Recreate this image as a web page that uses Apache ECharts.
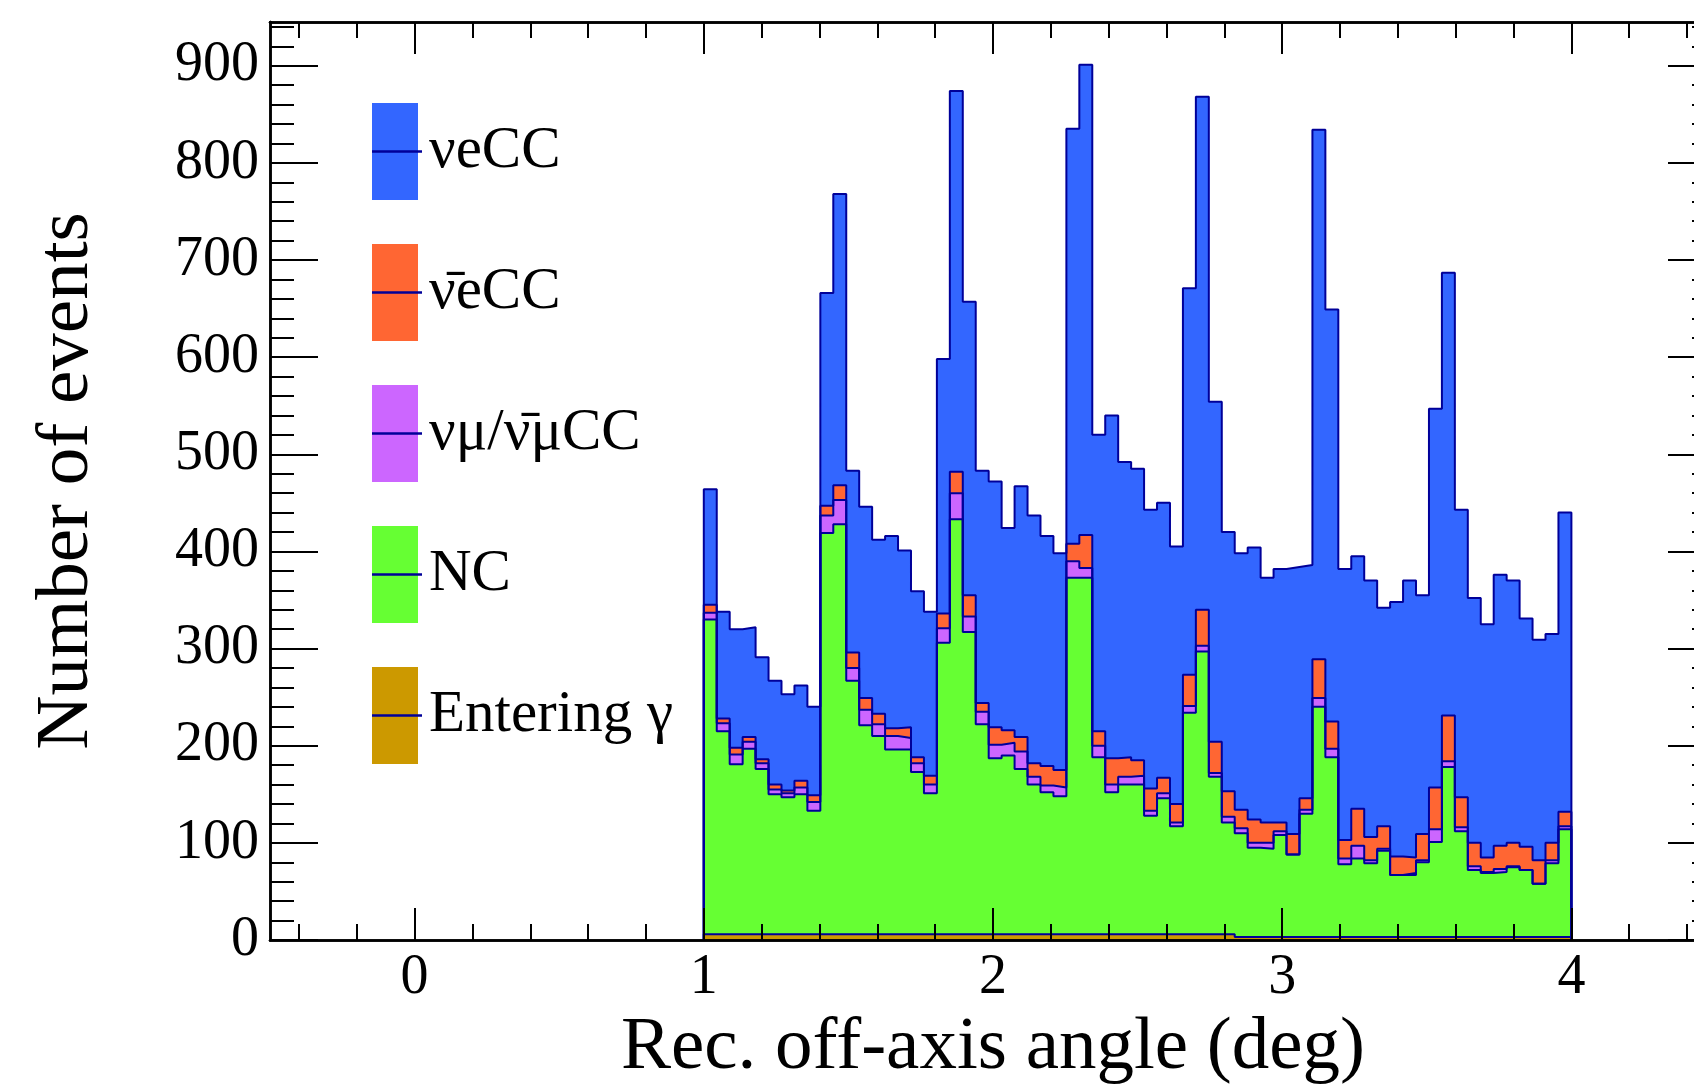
<!DOCTYPE html>
<html>
<head>
<meta charset="utf-8">
<title>off-axis angle</title>
<script src="https://cdn.jsdelivr.net/npm/echarts@6.0.0/dist/echarts.min.js"></script>
<style>
  html, body { margin: 0; padding: 0; background: #fff; }
  #main { width: 1694px; height: 1090px; }
</style>
</head>
<body>
<div id="main"></div>
<script type="text/javascript">
// histogram binning: 67 bins between 1 and 4 deg
var binLow = 1, binHigh = 4;

// events per bin, one array per component (stack order bottom -> top)
var enteringGamma = [6,6,6,6,6,6,6,6,6,6, 6,6,6,6,6,6,6,6,6,6, 6,6,6,6,6,6,6,6,6,6, 6,6,6,6,6,6,6,6,6,6,
                     6,3,3,3,3,3,3,3,3,3, 3,3,3,3,3,3,3,3,3,3, 3,3,3,3,3,3,3];
var nc = [324,209,175,191,170,144,141,144,127,413, 422,261,215,204,190,190,167,145,300,427,
          311,216,181,184,170,154,146,142,367,367, 182,146,154,154,122,140,111,228,291,162,
          115,107,92,91,105,85,127,237,185,75, 81,76,89,64,64,77,98,175,109,69,
          66,67,72,69,55,76,111];
var numuCC = [7,8,10,7,6,5,4,7,9,18, 25,13,16,12,14,12,9,9,15,27,
              16,13,14,13,18,8,7,9,17,10, 12,8,8,9,5,5,4,7,6,4,
              6,5,5,6,4,0,4,9,9,6, 13,3,2,0,2,2,13,6,4,4,
              1,3,1,0,0,3,3];
var nuebarCC = [8,5,7,5,4,5,3,7,7,10, 15,16,12,11,8,11,6,9,15,22,
                22,9,18,13,15,14,20,18,18,34, 15,27,20,16,23,16,19,32,37,32,
                26,19,24,21,9,21,12,40,28,19, 38,24,23,19,16,27,43,47,31,24,
                15,24,24,24,24,18,15];
var nueCC = [119,110,122,113,105,107,99,98,91,219, 300,187,197,179,198,182,171,169,262,392,
             302,239,253,208,258,255,237,223,427,484, 305,353,304,300,287,283,265,398,528,350,
             267,264,280,252,261,275,240,545,424,279, 260,264,225,262,285,246,390,456,296,252,
             240,279,270,235,227,215,308];

var xMajor = [0, 1, 2, 3, 4];
var xMinor = [-0.4, -0.2, 0.2, 0.4, 0.6, 0.8, 1.2, 1.4, 1.6, 1.8, 2.2, 2.4, 2.6, 2.8,
              3.2, 3.4, 3.6, 3.8, 4.2, 4.4];
var yMajor = [0, 100, 200, 300, 400, 500, 600, 700, 800, 900];
var yMinor = [20, 40, 60, 80, 120, 140, 160, 180, 220, 240, 260, 280, 320, 340, 360, 380,
              420, 440, 460, 480, 520, 540, 560, 580, 620, 640, 660, 680, 720, 740, 760, 780,
              820, 840, 860, 880, 920, 940];

var names = ['\u03BDeCC', '\u03BD\u0304eCC', '\u03BD\u03BC/\u03BD\u0304\u03BCCC', 'NC', 'Entering \u03B3'];
var fills = ['#3366ff', '#ff6633', '#cc66ff', '#66ff33', '#cc9900'];
var lineCol = '#000099';
var font = "'Liberation Serif', 'DejaVu Serif', serif";

// cumulative stacks, from top layer down
var layers = [enteringGamma, nc, numuCC, nuebarCC, nueCC];
var cum = [];
var run = enteringGamma.map(function () { return 0; });
layers.forEach(function (arr) {
    run = run.map(function (v, i) { return v + arr[i]; });
    cum.push(run.slice());
});
cum.reverse(); // [total, ..., gamma]

function stepPoints(vals) {
    var w = (binHigh - binLow) / vals.length;
    var pts = [[binLow, 0]];
    for (var i = 0; i < vals.length; i++) pts.push([binLow + i * w, vals[i]]);
    pts.push([binHigh, vals[vals.length - 1]]);
    pts.push([binHigh, 0]);
    return pts;
}

var series = cum.map(function (vals, k) {
    return {
        name: names[k],
        type: 'line',
        step: 'end',
        symbol: 'none',
        color: fills[k],
        lineStyle: { color: lineCol, width: 2 },
        areaStyle: { color: fills[k], opacity: 1 },
        data: stepPoints(vals),
        xAxisIndex: 0,
        yAxisIndex: 0,
        animation: false,
        silent: true
    };
});

function xAx(pos, ticks, len, labels) {
    return {
        type: 'value', position: pos, min: -0.5, max: 4.5, z: 5,
        axisLine: { show: true, onZero: false, lineStyle: { color: '#000', width: 2.5 } },
        axisTick: { show: true, inside: true, length: len, customValues: ticks,
                    lineStyle: { color: '#000', width: 2 } },
        axisLabel: labels ? { show: true, customValues: xMajor, margin: 10, color: '#000',
                              fontFamily: font, fontSize: 56 } : { show: false },
        splitLine: { show: false }
    };
}
function yAx(pos, ticks, len, labels) {
    return {
        type: 'value', position: pos, min: 0, max: 945, z: 5,
        axisLine: { show: true, onZero: false, lineStyle: { color: '#000', width: 2.5 } },
        axisTick: { show: true, inside: true, length: len, customValues: ticks,
                    lineStyle: { color: '#000', width: 2 } },
        axisLabel: labels ? { show: true, customValues: yMajor, margin: 11, color: '#000',
                              fontFamily: font, fontSize: 56 } : { show: false },
        splitLine: { show: false }
    };
}

var xa = [xAx('bottom', xMajor, 32, true), xAx('bottom', xMinor, 16, false),
          xAx('top', xMajor, 32, false), xAx('top', xMinor, 16, false)];
xa[0].name = 'Rec. off-axis angle (deg)';
xa[0].nameLocation = 'middle';
xa[0].nameGap = 66;
xa[0].nameTextStyle = { fontFamily: font, fontSize: 75, color: '#000' };

var ya = [yAx('left', yMajor, 48, true), yAx('left', yMinor, 24, false),
          yAx('right', yMajor, 48, false), yAx('right', yMinor, 24, false)];
ya[0].name = 'Number of events';
ya[0].nameLocation = 'middle';
ya[0].nameGap = 165;
ya[0].nameTextStyle = { fontFamily: font, fontSize: 75, color: '#000' };

var legendTop = 103, itemH = 97, itemGap = 44;
var legendLines = names.map(function (n, i) {
    var cy = legendTop + i * (itemH + itemGap) + itemH / 2;
    return {
        type: 'line', z: 100,
        shape: { x1: 372, y1: cy, x2: 422, y2: cy },
        style: { stroke: lineCol, lineWidth: 2.5 }
    };
});

var myChart = echarts.init(document.getElementById('main'), null, { renderer: 'canvas' });
myChart.setOption({
    backgroundColor: '#fff',
    animation: false,
    grid: { left: 270, top: 22, width: 1446, height: 918, containLabel: false, outerBoundsMode: 'none' },
    xAxis: xa,
    yAxis: ya,
    legend: {
        orient: 'vertical', left: 372, top: legendTop, padding: 0,
        itemWidth: 46, itemHeight: itemH, itemGap: itemGap,
        icon: 'rect', selectedMode: false,
        data: names.map(function (n, k) { return { name: n, itemStyle: { color: fills[k], borderWidth: 0 } }; }),
        textStyle: { fontFamily: font, fontSize: 59, color: '#000', padding: [8, 0, 0, 6] }
    },
    graphic: legendLines,
    series: series
});
</script>
</body>
</html>
